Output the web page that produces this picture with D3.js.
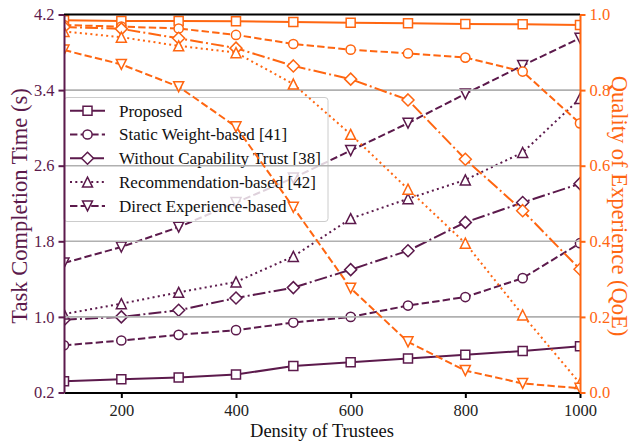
<!DOCTYPE html>
<html>
<head>
<meta charset="utf-8">
<script src="https://cdn.jsdelivr.net/npm/d3@7/dist/d3.min.js"></script>
<style>
  body { margin: 0; background: #fff; }
  svg text { font-family: "Liberation Serif", "Times New Roman", serif !important; }
</style>
</head>
<body>
<svg id="chart" width="631" height="443"></svg>
<script>
// ---- data ----
const densities = [100, 200, 300, 400, 500, 600, 700, 800, 900, 1000];
const seriesNames = [
  "Proposed",
  "Static Weight-based [41]",
  "Without Capability Trust [38]",
  "Recommendation-based [42]",
  "Direct Experience-based"
];
// task completion time (s), left axis
const timeProposed = [0.32, 0.34, 0.36, 0.39, 0.48, 0.52, 0.56, 0.60, 0.64, 0.69];
const timeStatic   = [0.70, 0.75, 0.81, 0.86, 0.94, 1.00, 1.12, 1.21, 1.41, 1.78];
const timeNoCap    = [0.97, 1.00, 1.07, 1.20, 1.31, 1.50, 1.70, 2.00, 2.21, 2.41];
const timeRecom    = [1.03, 1.14, 1.26, 1.37, 1.64, 2.04, 2.25, 2.45, 2.74, 3.31];
const timeDirect   = [1.57, 1.74, 1.95, 2.21, 2.47, 2.76, 3.05, 3.36, 3.66, 3.95];
// quality of experience, right axis
const qoeProposed = [0.985, 0.983, 0.983, 0.982, 0.980, 0.978, 0.977, 0.975, 0.974, 0.972];
const qoeStatic   = [0.972, 0.968, 0.963, 0.946, 0.922, 0.907, 0.897, 0.886, 0.849, 0.712];
const qoeNoCap    = [0.967, 0.962, 0.937, 0.911, 0.864, 0.829, 0.774, 0.617, 0.481, 0.326];
const qoeRecom    = [0.955, 0.940, 0.917, 0.899, 0.816, 0.683, 0.538, 0.395, 0.205, 0.024];
const qoeDirect   = [0.906, 0.868, 0.809, 0.703, 0.490, 0.276, 0.134, 0.058, 0.024, 0.011];

const densityTicks = [200, 400, 600, 800, 1000];
const timeTicks = [0.2, 1.0, 1.8, 2.6, 3.4, 4.2];
const qoeTicks = [0.0, 0.2, 0.4, 0.6, 0.8, 1.0];

const timeSeries = [timeProposed, timeStatic, timeNoCap, timeRecom, timeDirect];
const qoeSeries = [qoeProposed, qoeStatic, qoeNoCap, qoeRecom, qoeDirect];
const markers = ["square", "circle", "diamond", "triUp", "triDown"];
const dashes = [null, "7.4,3.2", "12.8,3.2,2,3.2", "2,3.3", "7.4,3.2"];

// ---- layout ----
const PURPLE = "#5c1a4c";
const ORANGE = "#ff6611";
const GRID = "#b0b0b0";
const SERIF = "'Liberation Serif', 'Times New Roman', serif";
const plot = { left: 64, right: 580, top: 14.5, bottom: 392.5 };

const svg = d3.select("#chart");
const x = d3.scaleLinear().domain([100, 1000]).range([plot.left, plot.right]);
const yTime = d3.scaleLinear().domain([0.2, 4.2]).range([plot.bottom, plot.top]);
const yQoe = d3.scaleLinear().domain([0, 1]).range([plot.bottom, plot.top]);

svg.append("defs").append("clipPath").attr("id", "plotClip")
  .append("rect")
  .attr("x", plot.left).attr("y", plot.top - 6)
  .attr("width", plot.right - plot.left).attr("height", plot.bottom - plot.top + 12);

function markerPath(kind) {
  switch (kind) {
    case "square": return "M-4.5,-4.5H4.5V4.5H-4.5Z";
    case "circle": return d3.symbol(d3.symbolCircle, Math.PI * 4.6 * 4.6)();
    case "diamond": return "M0,-6L6,0L0,6L-6,0Z";
    case "triUp": return "M0,-5L5,5L-5,5Z";
    case "triDown": return "M0,5L5,-5L-5,-5Z";
  }
}

function drawSeries(g, values, yScale, color, i) {
  const line = d3.line().x((d, j) => x(densities[j])).y(d => yScale(d));
  g.append("path")
    .datum(values)
    .attr("d", line)
    .attr("fill", "none")
    .attr("stroke", color)
    .attr("stroke-width", 2)
    .attr("stroke-dasharray", dashes[i]);
  g.selectAll(null)
    .data(values)
    .enter().append("path")
    .attr("d", markerPath(markers[i]))
    .attr("transform", (d, j) => `translate(${x(densities[j])},${yScale(d)})`)
    .attr("fill", "#fff")
    .attr("stroke", color)
    .attr("stroke-width", 1.5);
}

// left-axis series
const gTime = svg.append("g").attr("clip-path", "url(#plotClip)");
timeSeries.forEach((vals, i) => drawSeries(gTime, vals, yTime, PURPLE, i));

// legend for the series styles
const legend = svg.append("g").attr("transform", "translate(64,97.5)");
legend.append("rect")
  .attr("x", 0).attr("y", 0).attr("width", 264).attr("height", 124)
  .attr("rx", 3).attr("ry", 3)
  .attr("fill", "#fff").attr("fill-opacity", 0.8)
  .attr("stroke", "#cccccc").attr("stroke-width", 1);
seriesNames.forEach((name, i) => {
  const cy = 13.2 + i * 23.8;
  legend.append("line")
    .attr("x1", 6).attr("x2", 41).attr("y1", cy).attr("y2", cy)
    .attr("stroke", PURPLE).attr("stroke-width", 2)
    .attr("stroke-dasharray", dashes[i]);
  legend.append("path")
    .attr("d", markerPath(markers[i]))
    .attr("transform", `translate(23.5,${cy})`)
    .attr("fill", "#fff").attr("stroke", PURPLE).attr("stroke-width", 1.5);
  legend.append("text")
    .attr("x", 55).attr("y", cy + 5.8)
    .style("font-family", SERIF).style("font-size", "17px")
    .attr("fill", "#111")
    .text(name);
});

// horizontal grid
svg.append("g").selectAll("line")
  .data(timeTicks.slice(1, -1))
  .enter().append("line")
  .attr("x1", plot.left).attr("x2", plot.right)
  .attr("y1", d => yTime(d)).attr("y2", d => yTime(d))
  .attr("stroke", GRID).attr("stroke-width", 1.6);

// right-axis series
const gQoe = svg.append("g").attr("clip-path", "url(#plotClip)");
qoeSeries.forEach((vals, i) => drawSeries(gQoe, vals, yQoe, ORANGE, i));

// ---- axes ----
const fmt1 = d3.format(".1f");
function styleAxis(ax, color, textColor) {
  ax.attr("font-family", SERIF);
  ax.select(".domain").attr("stroke", color).attr("stroke-width", 2);
  ax.selectAll(".tick line").attr("stroke", color).attr("stroke-width", 2);
  ax.selectAll(".tick text")
    .style("font-family", SERIF).style("font-size", "16.5px")
    .attr("fill", textColor);
}

const axBottom = svg.append("g")
  .attr("transform", `translate(0,${plot.bottom})`)
  .call(d3.axisBottom(x).tickValues(densityTicks).tickFormat(d3.format("d"))
    .tickSize(5.5).tickSizeOuter(0).tickPadding(6));
styleAxis(axBottom, "#000", "#222");

svg.append("line")
  .attr("x1", plot.left).attr("x2", plot.right)
  .attr("y1", plot.top).attr("y2", plot.top)
  .attr("stroke", "#000").attr("stroke-width", 2);

const axLeft = svg.append("g")
  .attr("transform", `translate(${plot.left},0)`)
  .call(d3.axisLeft(yTime).tickValues(timeTicks).tickFormat(fmt1)
    .tickSize(5.5).tickSizeOuter(0).tickPadding(4));
styleAxis(axLeft, PURPLE, PURPLE);

const axRight = svg.append("g")
  .attr("transform", `translate(${plot.right},0)`)
  .call(d3.axisRight(yQoe).tickValues(qoeTicks).tickFormat(fmt1)
    .tickSize(5.5).tickSizeOuter(0).tickPadding(4));
styleAxis(axRight, ORANGE, ORANGE);

// ---- axis titles ----
svg.append("text")
  .attr("x", (plot.left + plot.right) / 2).attr("y", 437)
  .attr("text-anchor", "middle")
  .style("font-family", SERIF).style("font-size", "18.5px")
  .attr("fill", "#111")
  .text("Density of Trustees");
svg.append("text")
  .attr("transform", `translate(27,206) rotate(-90)`)
  .attr("text-anchor", "middle")
  .style("font-family", SERIF).style("font-size", "22.5px")
  .attr("fill", PURPLE)
  .text("Task Completion Time (s)");
svg.append("text")
  .attr("transform", `translate(612,206) rotate(90)`)
  .attr("text-anchor", "middle")
  .style("font-family", SERIF).style("font-size", "22.5px")
  .attr("fill", ORANGE)
  .text("Quality of Experience (QoE)");
</script>
</body>
</html>
